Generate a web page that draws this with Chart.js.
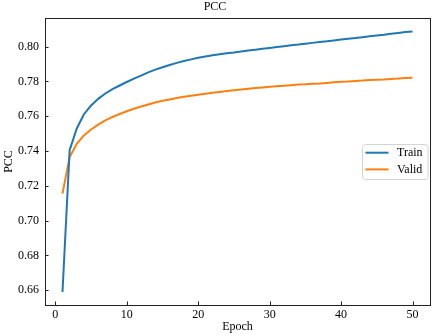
<!DOCTYPE html>
<html>
<head>
  <meta charset="utf-8">
  <title>PCC</title>
  <script src="https://cdn.jsdelivr.net/npm/chart.js"></script>
  <style>
    html, body {
      margin: 0;
      padding: 0;
      background: #fff;
    }
    .chart-container {
      width: 433px;
      height: 336px;
    }
  </style>
</head>
<body>
  <div class="chart-container">
    <canvas id="pccChart" width="433" height="336"></canvas>
  </div>

  <script>
    // Epochs 1..50 and the PCC
    const epochs = [1, 2, 3, 4, 5, 6, 7, 8, 9, 10,
      11, 12, 13, 14, 15, 16, 17, 18, 19, 20,
      21, 22, 23, 24, 25, 26, 27, 28, 29, 30,
      31, 32, 33, 34, 35, 36, 37, 38, 39, 40,
      41, 42, 43, 44, 45, 46, 47, 48, 49, 50];

    const trainPcc = [0.6590, 0.7405, 0.7530, 0.7612, 0.7662, 0.7700, 0.7731, 0.7756, 0.7777, 0.7797,
      0.7816, 0.7834, 0.7852, 0.7868, 0.7882, 0.7895, 0.7907, 0.7918, 0.7927, 0.7936,
      0.7944, 0.7951, 0.7957, 0.7962, 0.7967, 0.7973, 0.7978, 0.7983, 0.7988, 0.7993,
      0.7998, 0.8003, 0.8008, 0.8012, 0.8017, 0.8022, 0.8027, 0.8031, 0.8036, 0.8041,
      0.8046, 0.8050, 0.8055, 0.8060, 0.8065, 0.8069, 0.8074, 0.8079, 0.8084, 0.8088];

    const validPcc = [0.7155, 0.7365, 0.7442, 0.7490, 0.7524, 0.7552, 0.7576, 0.7596, 0.7613, 0.7629,
      0.7643, 0.7656, 0.7668, 0.7679, 0.7689, 0.7697, 0.7705, 0.7712, 0.7718, 0.7724,
      0.7730, 0.7735, 0.7740, 0.7745, 0.7750, 0.7754, 0.7758, 0.7762, 0.7766, 0.7770,
      0.7773, 0.7776, 0.7779, 0.7782, 0.7784, 0.7787, 0.7789, 0.7792, 0.7795, 0.7798,
      0.7800, 0.7803, 0.7805, 0.7808, 0.7810, 0.7812, 0.7815, 0.7817, 0.7820, 0.7822];

    const xTicks = [0, 10, 20, 30, 40, 50];
    const yTicks = [0.66, 0.68, 0.70, 0.72, 0.74, 0.76, 0.78, 0.80];

    const serif = "'Liberation Serif', 'Times New Roman', serif";
    const axisColor = '#222';

    // matplotlib-like frame, inward ticks and a "center right" legend box
    const framePlugin = {
      id: 'framePlugin',
      afterDraw(chart) {
        const { ctx, chartArea: a, scales: { x, y } } = chart;
        ctx.save();
        ctx.strokeStyle = axisColor;
        ctx.lineWidth = 1;

        // ticks pointing into the plot
        ctx.beginPath();
        xTicks.forEach(v => {
          const px = Math.round(x.getPixelForValue(v)) + 0.5;
          ctx.moveTo(px, a.bottom);
          ctx.lineTo(px, a.bottom - 3.5);
        });
        yTicks.forEach(v => {
          const py = Math.round(y.getPixelForValue(v)) + 0.5;
          ctx.moveTo(a.left, py);
          ctx.lineTo(a.left + 3.5, py);
        });
        ctx.stroke();

        // box around the axes
        ctx.strokeRect(Math.round(a.left) + 0.5, Math.round(a.top) + 0.5,
          Math.round(a.right - a.left), Math.round(a.bottom - a.top));

        // legend
        ctx.font = '12px ' + serif;
        const items = chart.data.datasets;
        const textW = Math.max(...items.map(d => ctx.measureText(d.label).width));
        const rowH = 16.7;
        const boxW = 3.5 + 23 + 8.5 + textW + 5;
        const boxH = 35;
        const bx = Math.round(a.right - 2.5 - boxW);
        const by = Math.round((a.top + a.bottom) / 2 - boxH / 2);

        ctx.beginPath();
        ctx.roundRect(bx + 0.5, by + 0.5, boxW, boxH, 3);
        ctx.fillStyle = 'rgba(255, 255, 255, 0.8)';
        ctx.fill();
        ctx.strokeStyle = '#d4d4d4';
        ctx.stroke();

        items.forEach((d, i) => {
          const ly = by + 8.7 + i * rowH;
          ctx.beginPath();
          ctx.strokeStyle = d.borderColor;
          ctx.lineWidth = 2;
          ctx.moveTo(bx + 3.5, ly);
          ctx.lineTo(bx + 26.5, ly);
          ctx.stroke();
          ctx.fillStyle = '#000';
          ctx.textBaseline = 'middle';
          ctx.textAlign = 'left';
          ctx.fillText(d.label, bx + 35, ly + 0.5);
        });
        ctx.restore();
      }
    };

    const ctxPcc = document.getElementById('pccChart').getContext('2d');
    const pccChart = new Chart(ctxPcc, {
      type: 'line',
      data: {
        datasets: [
          {
            label: 'Train',
            data: epochs.map((e, i) => ({ x: e, y: trainPcc[i] })),
            borderColor: '#1f77b4',
            borderWidth: 2,
            pointRadius: 0,
            tension: 0,
            fill: false
          },
          {
            label: 'Valid',
            data: epochs.map((e, i) => ({ x: e, y: validPcc[i] })),
            borderColor: '#ff7f0e',
            borderWidth: 2,
            pointRadius: 0,
            tension: 0,
            fill: false
          }
        ]
      },
      options: {
        responsive: false,
        animation: false,
        devicePixelRatio: 1,
        layout: {
          padding: { left: 0, right: 3, top: 0, bottom: 0 }
        },
        plugins: {
          legend: { display: false },
          tooltip: { enabled: false },
          title: {
            display: true,
            text: 'PCC',
            color: '#000',
            font: { family: serif, size: 12, weight: 'normal', lineHeight: 1 },
            padding: { top: 1, bottom: 5 }
          }
        },
        scales: {
          x: {
            type: 'linear',
            min: -1.45,
            max: 52.45,
            afterBuildTicks: s => { s.ticks = xTicks.map(v => ({ value: v })); },
            afterFit: s => { s.height = 31; },
            grid: { display: false, drawTicks: false },
            border: { display: true, color: axisColor, width: 1 },
            ticks: {
              color: '#000',
              font: { family: serif, size: 12 },
              padding: 3,
              maxRotation: 0,
              autoSkip: false
            },
            title: {
              display: true,
              text: 'Epoch',
              color: '#000',
              font: { family: serif, size: 12 },
              padding: { top: 0, bottom: 2 }
            }
          },
          y: {
            min: 0.6515,
            max: 0.8165,
            afterBuildTicks: s => { s.ticks = yTicks.map(v => ({ value: v })); },
            afterFit: s => { s.width = 45; },
            grid: { display: false, drawTicks: false },
            border: { display: true, color: axisColor, width: 1 },
            ticks: {
              color: '#000',
              font: { family: serif, size: 12 },
              padding: 6,
              autoSkip: false,
              callback: v => v.toFixed(2)
            },
            title: {
              display: true,
              text: 'PCC',
              color: '#000',
              font: { family: serif, size: 12 },
              padding: { top: 2, bottom: 0 }
            }
          }
        }
      },
      plugins: [framePlugin]
    });
  </script>
</body>
</html>
